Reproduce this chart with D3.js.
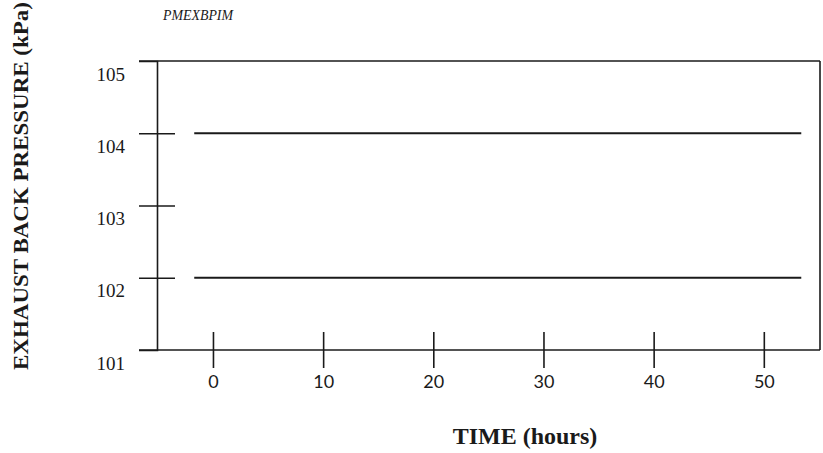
<!DOCTYPE html>
<html>
<head>
<meta charset="utf-8">
<script src="https://cdn.jsdelivr.net/npm/d3@7"></script>
<style>
  html, body { margin: 0; padding: 0; background: #fff; }
  svg { display: block; }
</style>
</head>
<body>
<svg id="chart" width="823" height="453"></svg>
<script>
// ---- data ----
const timeHours = [-1.7, 53.4];
const upperLine = [104, 104];
const lowerLine = [102, 102];
const xTickValues = [0, 10, 20, 30, 40, 50];
const yTickValues = [101, 102, 103, 104, 105];
const xDomain = [-5.08, 55.1];
const yDomain = [101, 105];
const chartTag = "PMEXBPIM";
const xTitle = "TIME (hours)";
const yTitle = "EXHAUST BACK PRESSURE (kPa)";

// ---- layout ----
const svg = d3.select("#chart");
const mLeft = 157, mRight = 820, mTop = 61, mBottom = 350;
const tickHalf = 18;
const ink = "#1a1a1a";
const serif = "'Liberation Serif', 'Times New Roman', serif";

const x = d3.scaleLinear().domain(xDomain).range([mLeft, mRight]);
const y = d3.scaleLinear().domain(yDomain).range([mBottom, mTop]);

// frame
const frame = svg.append("g").attr("stroke", ink).attr("stroke-width", 1.6).attr("fill", "none");
frame.append("line").attr("x1", mLeft - tickHalf).attr("x2", mRight).attr("y1", mTop).attr("y2", mTop);
frame.append("line").attr("x1", mLeft - tickHalf).attr("x2", mRight).attr("y1", mBottom).attr("y2", mBottom);
frame.append("line").attr("x1", mRight).attr("x2", mRight).attr("y1", mTop).attr("y2", mBottom);

// y axis
const yAxis = svg.append("g")
  .attr("transform", `translate(${mLeft},0)`)
  .call(d3.axisLeft(y).tickValues(yTickValues).tickSize(tickHalf).tickFormat(d3.format("d")));
yAxis.select(".domain").attr("stroke", ink).attr("stroke-width", 1.6);
yAxis.selectAll(".tick line").attr("x1", tickHalf).attr("stroke", ink).attr("stroke-width", 1.5)
  .filter(d => d === 101 || d === 105).remove();
yAxis.selectAll(".tick text")
  .attr("x", -32).attr("y", 19).attr("dy", 0)
  .attr("font-family", serif)
  .attr("font-size", 19).attr("fill", ink);

// x axis
const xAxis = svg.append("g")
  .attr("transform", `translate(0,${mBottom})`)
  .call(d3.axisBottom(x).tickValues(xTickValues).tickSize(tickHalf).tickFormat(d3.format("d")));
xAxis.select(".domain").remove();
xAxis.selectAll(".tick line").attr("y1", -tickHalf).attr("stroke", ink).attr("stroke-width", 1.6);
xAxis.selectAll(".tick text")
  .attr("y", 38).attr("dy", 0)
  .attr("font-family", "Lato, 'Open Sans', sans-serif")
  .attr("font-size", 18).attr("fill", ink);

// data lines
const line = d3.line().x(d => x(d[0])).y(d => y(d[1]));
[upperLine, lowerLine].forEach(vals => {
  svg.append("path")
    .datum(timeHours.map((t, i) => [t, vals[i]]))
    .attr("d", line)
    .attr("fill", "none").attr("stroke", ink).attr("stroke-width", 2.2);
});

// titles
svg.append("text")
  .attr("x", 163).attr("y", 20)
  .attr("font-family", serif)
  .attr("font-style", "italic").attr("font-size", 15).attr("fill", ink)
  .attr("textLength", 70).attr("lengthAdjust", "spacingAndGlyphs")
  .text(chartTag);

svg.append("text")
  .attr("x", 525).attr("y", 444)
  .attr("text-anchor", "middle")
  .attr("font-family", serif)
  .attr("font-weight", "bold").attr("font-size", 24).attr("fill", ink)
  .text(xTitle);

svg.append("text")
  .attr("transform", "translate(28,186) rotate(-90)")
  .attr("text-anchor", "middle")
  .attr("font-family", serif)
  .attr("font-weight", "bold").attr("font-size", 22).attr("fill", ink)
  .attr("textLength", 368).attr("lengthAdjust", "spacingAndGlyphs")
  .text(yTitle);
</script>
</body>
</html>
